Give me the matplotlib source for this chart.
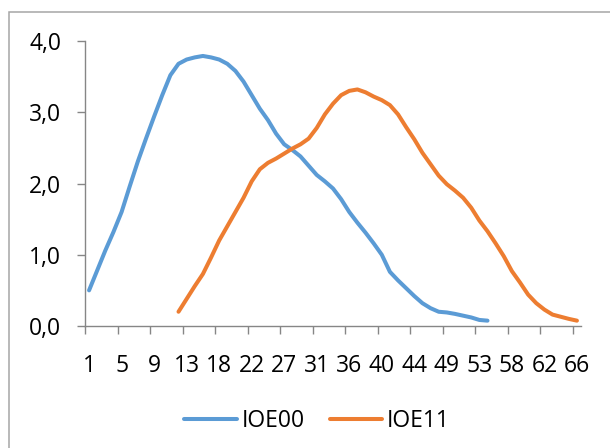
import numpy as np
import matplotlib
matplotlib.use("Agg")
import matplotlib.pyplot as plt
from matplotlib.patches import Rectangle


# ====================================
# Data
# ====================================

tick_labels = ["1", "5", "9", "13", "18", "22", "27", "31",
               "36", "40", "44", "49", "53", "58", "62", "66"]

ioe00 = [0.50, 0.78, 1.06, 1.32, 1.60, 1.96, 2.31, 2.63, 2.94, 3.24,
         3.52, 3.68, 3.74, 3.77, 3.79, 3.77, 3.74, 3.68, 3.58, 3.43,
         3.24, 3.05, 2.89, 2.70, 2.55, 2.47, 2.38, 2.25, 2.12, 2.03,
         1.93, 1.78, 1.60, 1.45, 1.31, 1.16, 1.00, 0.76, 0.64, 0.53,
         0.42, 0.32, 0.25, 0.20, 0.19, 0.17, 0.145, 0.12, 0.085, 0.075]

ioe11 = [None] * 11 + [
         0.20, 0.38, 0.56, 0.73, 0.96, 1.20, 1.40, 1.60, 1.80, 2.03,
         2.20, 2.29, 2.35, 2.42, 2.49, 2.55, 2.63, 2.78, 2.97, 3.12,
         3.24, 3.30, 3.32, 3.28, 3.22, 3.17, 3.10, 2.97, 2.79, 2.62,
         2.43, 2.27, 2.11, 1.99, 1.90, 1.80, 1.66, 1.48, 1.33, 1.16,
         0.98, 0.77, 0.61, 0.44, 0.32, 0.23, 0.16, 0.13, 0.10, 0.075]

n_cat = len(ioe11)

s00 = np.array(ioe00, dtype=float)
s11 = np.array([np.nan if v is None else v for v in ioe11], dtype=float)


# ====================================
# Figure
# ====================================

plt.rcParams["font.family"] = ["Open Sans", "DejaVu Sans"]

fig = plt.figure(figsize=(6.1, 4.48), dpi=100)
ax = fig.add_axes([85 / 610, 122 / 448, 496 / 610, 285 / 448])

# outer chart frame
fig.patches.append(Rectangle((9 / 610, -0.1), 1.2, 0.1 + 436 / 448,
                             transform=fig.transFigure, fill=False,
                             edgecolor="#A6A6A6", linewidth=1.1))

ax.plot(np.arange(len(s00)), s00, color="#5B9BD5", linewidth=2.9,
        solid_capstyle="round", solid_joinstyle="round", label="IOE00")
ax.plot(np.arange(n_cat), s11, color="#ED7D31", linewidth=2.9,
        solid_capstyle="round", solid_joinstyle="round", label="IOE11")


# ====================================
# Axes
# ====================================

ax.set_xlim(-0.5, n_cat - 0.5)
ax.set_ylim(0, 4)

ax.set_yticks([0, 1, 2, 3, 4])
ax.set_yticklabels(["0,0", "1,0", "2,0", "3,0", "4,0"])

ax.set_xticks(np.arange(0, n_cat, 4) - 0.5)
ax.set_xticklabels([])
ax.set_xticks(np.arange(0, n_cat, 4), minor=True)
ax.set_xticklabels(tick_labels, minor=True)

ax.tick_params(axis="y", length=6, width=1.0, color="#868686",
               labelsize=16.5, pad=11)
ax.tick_params(axis="x", which="major", length=6, width=1.0,
               color="#868686")
ax.tick_params(axis="x", which="minor", length=0, labelsize=16.5, pad=20)

for side in ["top", "right"]:
    ax.spines[side].set_visible(False)
for side in ["left", "bottom"]:
    ax.spines[side].set_color("#868686")
    ax.spines[side].set_linewidth(1.0)


# ====================================
# Legend
# ====================================

fig.legend(loc="center", bbox_to_anchor=(317 / 610, 27 / 448), ncol=2,
           frameon=False, fontsize=16.5, handlelength=2.3,
           handletextpad=0.2, columnspacing=1.1)

fig.savefig("out.png", dpi=100)
